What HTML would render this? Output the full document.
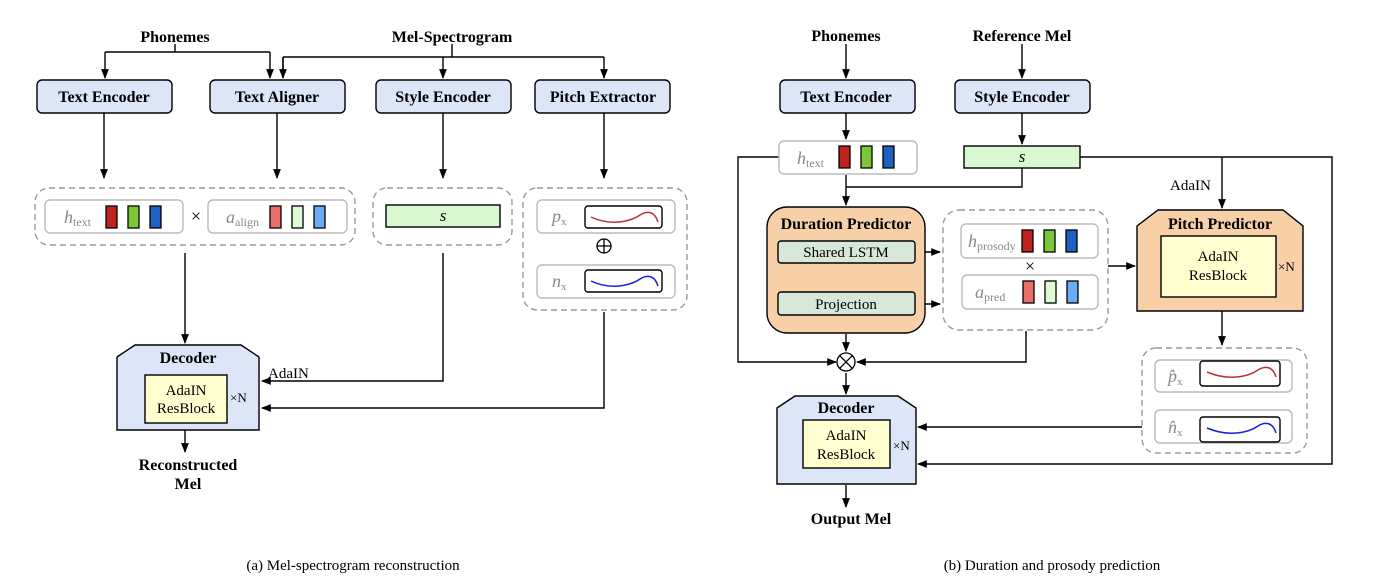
<!DOCTYPE html>
<html><head><meta charset="utf-8"><style>
html,body{margin:0;padding:0;background:#fff;}
svg{display:block;}
text{font-family:"Liberation Serif",serif;}
.b{font-weight:bold;font-size:16px;}
.t{font-size:15px;}
.g{fill:#888;font-style:italic;font-size:18px;}
.g tspan{font-style:normal;}
</style></head><body>
<svg width="1398" height="586" viewBox="0 0 1398 586" xmlns="http://www.w3.org/2000/svg">
<defs>
<marker id="a" viewBox="0 0 10 10" refX="9" refY="5" markerWidth="7" markerHeight="7" orient="auto"><path d="M0,1 L10,5 L0,9 z" fill="#000"/></marker>
<g id="rgb"><rect x="0" y="0" width="11" height="22" fill="#c0231e" stroke="#000" stroke-width="1.3"/><rect x="22" y="0" width="11" height="22" fill="#7cc63a" stroke="#000" stroke-width="1.3"/><rect x="44" y="0" width="11" height="22" fill="#2060c0" stroke="#000" stroke-width="1.3"/></g>
<g id="rgbl"><rect x="0" y="0" width="11" height="22" fill="#ec6e6a" stroke="#000" stroke-width="1.3"/><rect x="22" y="0" width="11" height="22" fill="#dcfad4" stroke="#000" stroke-width="1.3"/><rect x="44" y="0" width="11" height="22" fill="#6cacf4" stroke="#000" stroke-width="1.3"/></g>
</defs>
<g stroke="#000" stroke-width="1.4" fill="none">
<path d="M175,44 V52 M105,52 H270 M105,52 V78" marker-end="url(#a)"/>
<path d="M270,52 V78" marker-end="url(#a)"/>
<path d="M452,44 V57 M283,57 H604 M283,57 V78"/>
<path d="M283,57 V78" marker-end="url(#a)"/>
<path d="M443,57 V78" marker-end="url(#a)"/>
<path d="M604,57 V78" marker-end="url(#a)"/>
<path d="M104,113 V178" marker-end="url(#a)"/>
<path d="M277,113 V178" marker-end="url(#a)"/>
<path d="M443,113 V178" marker-end="url(#a)"/>
<path d="M604,113 V178" marker-end="url(#a)"/>
<path d="M185,253 V343" marker-end="url(#a)"/>
<path d="M443,253 V381 H262" marker-end="url(#a)"/>
<path d="M604,312 V408 H262" marker-end="url(#a)"/>
<path d="M185,430 V452" marker-end="url(#a)"/>
<path d="M846,44 V78" marker-end="url(#a)"/>
<path d="M1022,44 V78" marker-end="url(#a)"/>
<path d="M846,113 V139" marker-end="url(#a)"/>
<path d="M1022,113 V144" marker-end="url(#a)"/>
<path d="M846,175 V205" marker-end="url(#a)"/>
<path d="M1022,168 V187 H846"/>
<path d="M915,252 H940" marker-end="url(#a)"/>
<path d="M915,304 H940" marker-end="url(#a)"/>
<path d="M846,262 V290" marker-end="url(#a)"/>
<path d="M1108,266 H1135" marker-end="url(#a)"/>
<path d="M1080,157 H1332 V464 H918" marker-end="url(#a)"/>
<path d="M1222,157 V208" marker-end="url(#a)"/>
<path d="M779,157 H738 V362 H836" marker-end="url(#a)"/>
<path d="M846,334 V351" marker-end="url(#a)"/>
<path d="M1026,331 V362 H857" marker-end="url(#a)"/>
<path d="M846,373 V394" marker-end="url(#a)"/>
<path d="M1222,311 V345" marker-end="url(#a)"/>
<path d="M1142,427 H918" marker-end="url(#a)"/>
<path d="M846,485 V507" marker-end="url(#a)"/>
</g>
<g stroke="#000" stroke-width="1.4" fill="#dce6f8">
<rect x="37" y="80" width="135" height="33" rx="5"/>
<rect x="210" y="80" width="135" height="33" rx="5"/>
<rect x="376" y="80" width="135" height="33" rx="5"/>
<rect x="535" y="80" width="135" height="33" rx="5"/>
<rect x="780" y="80" width="135" height="33" rx="5"/>
<rect x="955" y="80" width="135" height="33" rx="5"/>
</g>
<g class="b" text-anchor="middle">
<text x="175" y="42">Phonemes</text><text x="452" y="42">Mel-Spectrogram</text>
<text x="104" y="102">Text Encoder</text><text x="277" y="102">Text Aligner</text>
<text x="443" y="102">Style Encoder</text><text x="603" y="102">Pitch Extractor</text>
<text x="846" y="41">Phonemes</text><text x="1022" y="41">Reference Mel</text>
<text x="846" y="102">Text Encoder</text><text x="1022" y="102">Style Encoder</text>
<text x="188" y="470">Reconstructed</text><text x="188" y="489">Mel</text>
<text x="851" y="524">Output Mel</text>
</g>
<g stroke="#999" stroke-width="1.4" fill="none" stroke-dasharray="6,4">
<rect x="35" y="188" width="320" height="57" rx="14"/>
<rect x="373" y="188" width="139" height="57" rx="14"/>
<rect x="523" y="188" width="164" height="122" rx="14"/>
<rect x="943" y="210" width="165" height="120" rx="16"/>
<rect x="1142" y="348" width="165" height="105" rx="14"/>
</g>
<g stroke="#bbb" stroke-width="1.4" fill="#fff">
<rect x="45" y="200" width="138" height="33" rx="5"/>
<rect x="208" y="200" width="139" height="33" rx="5"/>
<rect x="537" y="200" width="138" height="33" rx="5"/>
<rect x="537" y="265" width="138" height="33" rx="5"/>
<rect x="779" y="141" width="138" height="33" rx="5"/>
<rect x="961" y="224" width="137" height="34" rx="5"/>
<rect x="962" y="275" width="136" height="34" rx="5"/>
<rect x="1155" y="360" width="137" height="32" rx="5"/>
<rect x="1155" y="410" width="137" height="33" rx="5"/>
</g>
<use href="#rgb" x="106" y="206"/><use href="#rgbl" x="270" y="206"/>
<use href="#rgb" x="839" y="146"/>
<use href="#rgb" x="1022" y="230"/><use href="#rgbl" x="1023" y="281"/>
<text x="64" y="223" class="g">h<tspan font-size="12" dy="3">text</tspan></text>
<text x="226" y="223" class="g">a<tspan font-size="12" dy="3">align</tspan></text>
<text x="797" y="164" class="g">h<tspan font-size="12" dy="3">text</tspan></text>
<text x="968" y="247" class="g">h<tspan font-size="12" dy="3">prosody</tspan></text>
<text x="975" y="298" class="g">a<tspan font-size="12" dy="3">pred</tspan></text>
<text x="552" y="222" class="g">p<tspan font-size="11" dy="3" font-style="italic">x</tspan></text>
<text x="552" y="287" class="g">n<tspan font-size="11" dy="3" font-style="italic">x</tspan></text>
<text x="1168" y="382" class="g">p̂<tspan font-size="11" dy="3" font-style="italic">x</tspan></text>
<text x="1168" y="433" class="g">n̂<tspan font-size="11" dy="3" font-style="italic">x</tspan></text>
<text x="196" y="222" font-size="18" text-anchor="middle">×</text>
<text x="1030" y="272" font-size="18" text-anchor="middle">×</text>
<rect x="386" y="205" width="114" height="22" fill="#d8f8d0" stroke="#000" stroke-width="1.4"/>
<text x="443" y="221" font-size="17" font-style="italic" text-anchor="middle">s</text>
<rect x="964" y="146" width="116" height="22" fill="#d8f8d0" stroke="#000" stroke-width="1.4"/>
<text x="1022" y="162" font-size="17" font-style="italic" text-anchor="middle">s</text>
<g stroke="#000" stroke-width="1.4" fill="#fff">
<rect x="585" y="206" width="77" height="22" rx="3"/>
<rect x="585" y="270" width="77" height="22" rx="3"/>
<rect x="1200" y="361" width="80" height="25" rx="3"/>
<rect x="1200" y="417" width="80" height="25" rx="3"/>
</g>
<g fill="none" stroke-width="1.5">
<path d="M591,217 C610,226 630,222 640,215 C648,210 655,212 658,222" stroke="#c03030"/>
<path d="M591,281 C610,290 630,286 640,279 C648,274 655,276 658,286" stroke="#1020e0"/>
<path d="M1207,372 C1228,381 1248,377 1258,370 C1266,365 1273,367 1276,377" stroke="#c03030"/>
<path d="M1207,428 C1228,437 1248,433 1258,426 C1266,421 1273,423 1276,433" stroke="#1020e0"/>
</g>
<g stroke="#000" stroke-width="1.3" fill="none">
<circle cx="604" cy="246" r="7"/><path d="M597,246 H611 M604,239 V253"/>
<circle cx="846" cy="362" r="9"/><path d="M839.6,355.6 L852.4,368.4 M852.4,355.6 L839.6,368.4"/>
</g>
<path d="M117,357 L135,345 H241 L259,357 V430 H117 Z" fill="#dce6f8" stroke="#000" stroke-width="1.4"/>
<text x="188" y="363" class="b" text-anchor="middle">Decoder</text>
<rect x="145" y="375" width="82" height="48" fill="#ffffd0" stroke="#000" stroke-width="1.4"/>
<text x="186" y="395" class="t" text-anchor="middle">AdaIN</text><text x="186" y="413" class="t" text-anchor="middle">ResBlock</text>
<text x="230" y="402" font-size="13">×N</text>
<text x="268" y="378" class="t">AdaIN</text>
<path d="M777,408 L795,396 H898 L916,408 V484 H777 Z" fill="#dce6f8" stroke="#000" stroke-width="1.4"/>
<text x="846" y="413" class="b" text-anchor="middle">Decoder</text>
<rect x="803" y="420" width="87" height="48" fill="#ffffd0" stroke="#000" stroke-width="1.4"/>
<text x="846" y="440" class="t" text-anchor="middle">AdaIN</text><text x="846" y="459" class="t" text-anchor="middle">ResBlock</text>
<text x="893" y="450" font-size="13">×N</text>
<rect x="767" y="207" width="158" height="126" rx="20" fill="#f8d0a8" stroke="#000" stroke-width="1.4"/>
<text x="846" y="229" class="b" text-anchor="middle">Duration Predictor</text>
<rect x="778" y="241" width="137" height="22" rx="3" fill="#d8e8d8" stroke="#000" stroke-width="1.4"/>
<text x="846" y="257" class="t" text-anchor="middle">Shared LSTM</text>
<rect x="778" y="292" width="137" height="23" rx="3" fill="#d8e8d8" stroke="#000" stroke-width="1.4"/>
<text x="846" y="309" class="t" text-anchor="middle">Projection</text>
<path d="M1137,226 L1158,210 H1283 L1303,226 V311 H1137 Z" fill="#f8d0a8" stroke="#000" stroke-width="1.4"/>
<text x="1220" y="229" class="b" text-anchor="middle">Pitch Predictor</text>
<rect x="1161" y="236" width="115" height="61" fill="#ffffd0" stroke="#000" stroke-width="1.4"/>
<text x="1218" y="261" class="t" text-anchor="middle">AdaIN</text><text x="1218" y="280" class="t" text-anchor="middle">ResBlock</text>
<text x="1278" y="271" font-size="13">×N</text>
<text x="1170" y="190" class="t">AdaIN</text>
<text x="353" y="570" class="t" text-anchor="middle">(a) Mel-spectrogram reconstruction</text>
<text x="1052" y="570" class="t" text-anchor="middle">(b) Duration and prosody prediction</text>
</svg>
</body></html>
